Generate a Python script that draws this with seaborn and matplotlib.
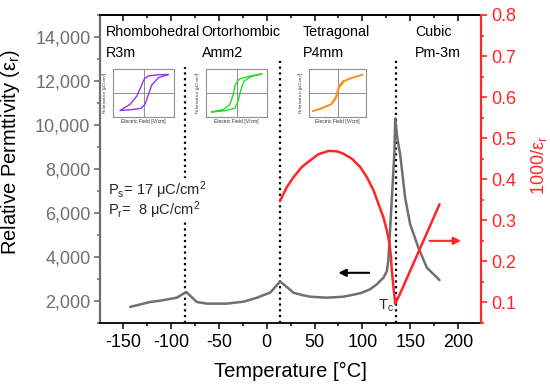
import matplotlib
matplotlib.use("Agg")
import matplotlib.pyplot as plt
import matplotlib.ticker as mticker
import seaborn as sns

# datos
perm_T = [-142.6, -121.7, -111, -93.8, -84, -73, -62.5, -41.6, -24, -10, -3, 3.7, 14,
          21.1, 28, 36.8, 45.5, 63, 80.3, 97.7, 108, 115, 122, 125.6, 127, 128.3, 130.8,
          133.5, 134.3, 136.5, 139.5, 144.7, 149.9, 158.6, 167.4, 180.6]
perm_eps = [1730, 1955, 2015, 2150, 2410, 1955, 1880, 1880, 1970, 2150, 2270, 2380, 2880,
            2634, 2376, 2270, 2195, 2150, 2195, 2350, 2530, 2756, 3060, 3360, 3810, 4717, 6680,
            8790, 10300, 9400, 8650, 6680, 5490, 4410, 3510, 2950]

inv_T = [14.1, 21.1, 28.0, 36.8, 45.5, 54.2, 64.6, 73.4, 80.3, 89.0, 97.7, 104.7, 111.6,
         116.8, 122.0, 125.6, 128.3, 129.8, 130.8, 132.5, 134.3, 139.5, 180.6]
inv_val = [0.348, 0.381, 0.405, 0.430, 0.446, 0.461, 0.469, 0.468, 0.462, 0.450, 0.430,
           0.405, 0.373, 0.340, 0.307, 0.275, 0.243, 0.210, 0.177, 0.136, 0.097, 0.122, 0.339]

phase_T = [-85, 14, 135]
phase_top = [12640, 12950, 13000]
phase_names = ["Rhombohedral\nR3m", "Ortorhombic\nAmm2", "Tetragonal\nP4mm", "Cubic\nPm-3m"]
phase_x = [0.016, 0.267, 0.531, 0.827]

# lazos de histeresis (E y P normalizados)
loop_purple_E = [0.82, 0.49, 0.16, 0.03, -0.08, -0.22, -0.44, -0.77,
                 -0.38, -0.08, 0.05, 0.16, 0.27, 0.49, 0.82]
loop_purple_P = [0.77, 0.76, 0.71, 0.60, 0.27, -0.13, -0.47, -0.73,
                 -0.69, -0.64, -0.47, -0.07, 0.33, 0.64, 0.77]
loop_green_E = [0.82, 0.38, 0.09, -0.04, -0.11, -0.22, -0.44, -0.82,
                -0.38, -0.05, 0.05, 0.13, 0.24, 0.49, 0.82]
loop_green_P = [0.79, 0.69, 0.58, 0.35, -0.07, -0.49, -0.69, -0.79,
                -0.74, -0.63, -0.35, 0.07, 0.49, 0.69, 0.79]
loop_orange_E = [0.88, 0.47, 0.18, 0.04, -0.06, -0.24, -0.59, -0.88,
                 -0.47, -0.18, -0.04, 0.06, 0.24, 0.53, 0.88]
loop_orange_P = [0.76, 0.63, 0.49, 0.28, -0.14, -0.49, -0.67, -0.76,
                 -0.58, -0.44, -0.21, 0.21, 0.49, 0.63, 0.76]

gris = "#6f6f6f"
rojo = "#ff2626"

sns.set_theme(style="white")
plt.rcParams['font.family'] = ['Liberation Sans', 'DejaVu Sans']
plt.rcParams['mathtext.fontset'] = 'custom'
plt.rcParams['mathtext.rm'] = 'Liberation Sans'
plt.rcParams['mathtext.it'] = 'Liberation Sans:italic'
plt.rcParams['mathtext.bf'] = 'Liberation Sans:bold'
plt.rcParams['axes.unicode_minus'] = False

fig = plt.figure(figsize=(5.5, 3.89), dpi=100)
ax = fig.add_axes([0.182, 0.1697, 0.6927, 0.7918])
ax2 = ax.twinx()

sns.lineplot(x=perm_T, y=perm_eps, ax=ax, color=gris, lw=1.8, sort=False, estimator=None)
sns.lineplot(x=inv_T, y=inv_val, ax=ax2, color=rojo, lw=1.8, sort=False, estimator=None)

for t, top in zip(phase_T, phase_top):
    ax.vlines(t, 1000, top, colors="black", linestyles=(0, (1, 1.6)), lw=1.6, zorder=1)

ax.set_xlim(-174, 224)
ax.set_ylim(1000, 15000)
ax2.set_ylim(0.05, 0.8)

ax.xaxis.set_major_locator(mticker.MultipleLocator(50))
ax.xaxis.set_minor_locator(mticker.MultipleLocator(25))
ax.yaxis.set_major_locator(mticker.MultipleLocator(2000))
ax.yaxis.set_minor_locator(mticker.MultipleLocator(1000))
ax.yaxis.set_major_formatter(mticker.StrMethodFormatter("{x:,.0f}"))
ax2.yaxis.set_major_locator(mticker.MultipleLocator(0.1))
ax2.yaxis.set_minor_locator(mticker.MultipleLocator(0.05))
ax2.yaxis.set_major_formatter(mticker.FormatStrFormatter("%.1f"))
ax.set_yticks([2000, 4000, 6000, 8000, 10000, 12000, 14000])

ax.tick_params(axis='x', which='both', direction='out', bottom=True, labelsize=13, colors='black', pad=4)
ax.tick_params(axis='x', which='major', length=4, width=1.1)
ax.tick_params(axis='x', which='minor', length=2.5, width=1.1)
ax.tick_params(axis='y', which='both', direction='out', left=True, labelsize=13, colors=gris, pad=3)
ax.tick_params(axis='y', which='major', length=4, width=1.2)
ax.tick_params(axis='y', which='minor', length=2.5, width=1.2)
ax2.tick_params(axis='y', which='both', direction='out', right=True, labelsize=13, colors=rojo, pad=3)
ax2.tick_params(axis='y', which='major', length=4, width=1.2)
ax2.tick_params(axis='y', which='minor', length=2.5, width=1.2)

top_ax = ax.secondary_xaxis('top')
top_ax.xaxis.set_major_locator(mticker.MultipleLocator(50))
top_ax.xaxis.set_minor_locator(mticker.MultipleLocator(25))
top_ax.tick_params(which='both', direction='in', labeltop=False, width=1.1, colors='black')
top_ax.tick_params(which='major', length=4)
top_ax.tick_params(which='minor', length=2.5)
top_ax.spines['top'].set_linewidth(1.3)

for s in ['top', 'bottom']:
    ax.spines[s].set_color('black')
    ax.spines[s].set_linewidth(1.3)
ax.spines['left'].set_color(gris)
ax.spines['left'].set_linewidth(1.6)
ax.spines['right'].set_visible(False)
ax2.spines['left'].set_visible(False)
ax2.spines['top'].set_visible(False)
ax2.spines['bottom'].set_visible(False)
ax2.spines['right'].set_color(rojo)
ax2.spines['right'].set_linewidth(1.6)

ax.set_xlabel("Temperature [°C]", fontsize=14.5, color='black')
ax.xaxis.set_label_coords(0.5, -0.125)
ax.set_ylabel("Relative Permttivity (ε$_\\mathrm{r}$)", fontsize=14.5, color='black')
ax.yaxis.set_label_coords(-0.205, 0.557)
ax2.set_ylabel("1000/ε$_\\mathrm{r}$", fontsize=13, color=rojo)
ax2.yaxis.set_label_coords(1.125, 0.513)

for nombre, xp in zip(phase_names, phase_x):
    ax.text(xp, 0.966, nombre, transform=ax.transAxes, fontsize=10.3, va='top', ha='left',
            linespacing=1.6, color='black')

caja = dict(facecolor='white', edgecolor='none', pad=1)
ax.text(0.02, 0.432, "P$_\\mathrm{s}$= 17 μC/cm$^\\mathrm{2}$", transform=ax.transAxes,
        fontsize=10.5, va='center', ha='left', bbox=caja, zorder=3)
ax.text(0.02, 0.367, "P$_\\mathrm{r}$=  8 μC/cm$^\\mathrm{2}$", transform=ax.transAxes,
        fontsize=10.5, va='center', ha='left', bbox=caja, zorder=3)
ax.text(116.5, 1800, "T$_\\mathrm{c}$", fontsize=10.5, va='center', ha='left')

ax.annotate("", xy=(72, 3280), xytext=(110, 3280),
            arrowprops=dict(arrowstyle='-|>', color='black', lw=1.5, mutation_scale=11))
ax2.annotate("", xy=(206, 0.25), xytext=(167.4, 0.25),
             arrowprops=dict(arrowstyle='-|>', color=rojo, lw=1.5, mutation_scale=11))

# insets de histeresis
insets = [
    (113, 174, loop_purple_E, loop_purple_P, "#9a30f0"),
    (206, 267, loop_green_E, loop_green_P, "#22dd22"),
    (309, 366, loop_orange_E, loop_orange_P, "#ff9020"),
]
W, H = 550.0, 389.0
for x0, x1, le, lp, col in insets:
    iax = fig.add_axes([x0 / W, 1 - 117 / H, (x1 - x0) / W, 48 / H])
    iax.axhline(0, color='#909090', lw=0.7)
    iax.axvline(0, color='#909090', lw=0.7)
    sns.lineplot(x=le, y=lp, ax=iax, color=col, lw=1.0, sort=False, estimator=None)
    iax.set_xlim(-1, 1)
    iax.set_ylim(-1, 1)
    iax.set_xticks([])
    iax.set_yticks([])
    for s in iax.spines.values():
        s.set_color('#909090')
        s.set_linewidth(0.8)
        s.set_visible(True)
    iax.set_xlabel("Electric Field [V/cm]", fontsize=3.6, labelpad=1.5, color='#333333')
    iax.set_ylabel("Polarisation [μC/cm$^\\mathrm{2}$]", fontsize=3.2, labelpad=1.5, color='#333333')

fig.savefig("out.png", dpi=100)
